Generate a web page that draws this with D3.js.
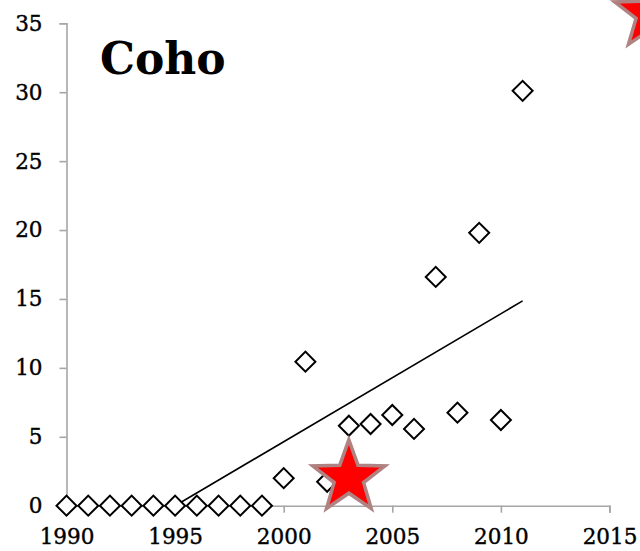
<!DOCTYPE html>
<html><head><meta charset="utf-8">
<script src="https://cdn.jsdelivr.net/npm/d3@7"></script>
<style>body{margin:0;background:#fff}svg{display:block}</style>
</head><body>
<script>
const years = [1990,1991,1992,1993,1994,1995,1996,1997,1998,1999,2000,2001,2002,2003,2004,2005,2006,2007,2008,2009,2010,2011];
const values = [0,0,0,0,0,0,0,0,0,0,2.0,10.45,1.74,5.8,5.93,6.58,5.57,16.6,6.75,19.8,6.22,30.1];
const trendYears = [1995, 2011];
const trendValues = [0, 14.86];
const starYears = [2003, 2016.9];
const starValues = [2.03, 35.7];
const xTicks = [1990,1995,2000,2005,2010,2015];
const yTicks = [0,5,10,15,20,25,30,35];
const title = "Coho";

const W = 640, H = 551;
const svg = d3.select("body").append("svg").attr("width", W).attr("height", H);
const x = d3.scaleLinear().domain([1990, 2015]).range([66.5, 609.5]);
const y = d3.scaleLinear().domain([0, 35]).range([505.7, 23.3]);
const font = "'DejaVu Serif', serif";

const yAxis = svg.append("g").attr("transform", `translate(${x(1990)},0)`)
  .call(d3.axisLeft(y).tickValues(yTicks).tickSize(7).tickPadding(17).tickFormat(d3.format("d")));
const xAxis = svg.append("g").attr("transform", `translate(0,${y(0)})`)
  .call(d3.axisBottom(x).tickValues(xTicks).tickSize(7).tickPadding(16).tickFormat(d3.format("d")));
[yAxis, xAxis].forEach(g => {
  g.attr("font-family", font).attr("font-size", 21.5);
  g.selectAll("path.domain").attr("stroke", "#a6a6a6").attr("stroke-width", 1.6);
  g.selectAll(".tick line").attr("stroke", "#a6a6a6").attr("stroke-width", 1.6);
  g.selectAll(".tick text").attr("fill", "#000").attr("stroke", "#000").attr("stroke-width", 0.4)
    .style("font-family", font).style("font-size", "21.5px");
});

svg.append("path")
  .datum(trendYears.map((d, i) => [d, trendValues[i]]))
  .attr("d", d3.line().x(d => x(d[0])).y(d => y(d[1])))
  .attr("fill", "none").attr("stroke", "#000").attr("stroke-width", 1.6);

const sym = d3.symbol().type(d3.symbolSquare).size(200);
svg.append("g").selectAll("path").data(years.map((d, i) => [d, values[i]])).join("path")
  .attr("d", sym)
  .attr("transform", d => `translate(${x(d[0])},${y(d[1])}) rotate(45)`)
  .attr("fill", "#fff").attr("stroke", "#000").attr("stroke-width", 2);

function starPath(R, r) {
  const pts = [];
  for (let i = 0; i < 10; i++) {
    const a = -Math.PI / 2 + i * Math.PI / 5;
    const rr = i % 2 === 0 ? R : r;
    pts.push([rr * Math.cos(a), rr * Math.sin(a)]);
  }
  return "M" + pts.map(p => p.join(",")).join("L") + "Z";
}
svg.append("g").selectAll("path").data(starYears.map((d, i) => [d, starValues[i]])).join("path")
  .attr("d", starPath(38, 15.5))
  .attr("transform", d => `translate(${x(d[0])},${y(d[1])})`)
  .attr("fill", "#ff0000").attr("stroke", "#b08282").attr("stroke-width", 3.5).attr("stroke-linejoin", "miter");

svg.append("text").attr("x", 100).attr("y", 74).text(title)
  .style("font-family", font).style("font-weight", "bold").style("font-size", "44px").attr("fill", "#000");
</script>
</body></html>
